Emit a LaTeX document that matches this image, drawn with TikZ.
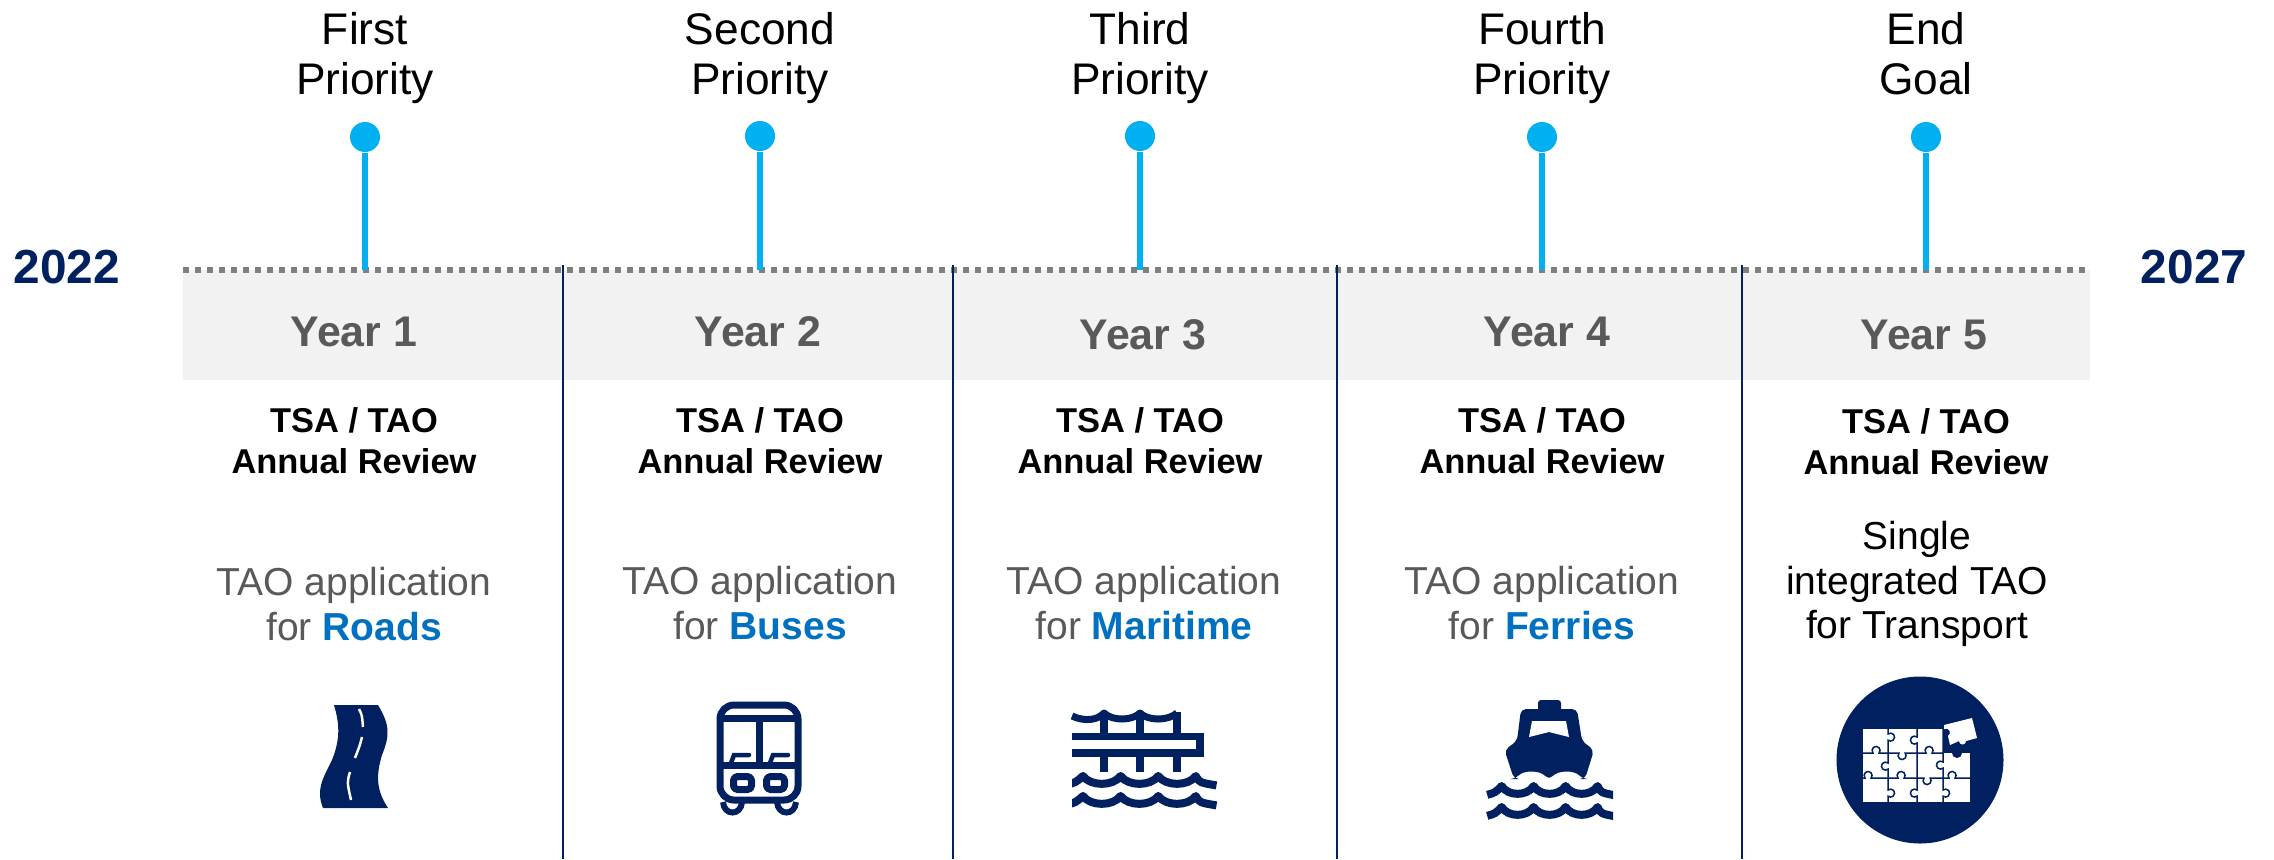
\documentclass[tikz,border=0pt]{standalone}
\usepackage{fontspec}
\setmainfont{Liberation Sans}
\definecolor{navyicon}{HTML}{002060}
\definecolor{pincyan}{HTML}{00B0F0}
\definecolor{bandgrey}{HTML}{F2F2F2}
\definecolor{dotgrey}{HTML}{7F7F7F}
\definecolor{textgrey}{HTML}{595959}
\definecolor{modeblue}{HTML}{0070C0}
\newcommand{\modename}[1]{\textbf{\textcolor{modeblue}{#1}}}
\tikzset{
  pin/.style={circle,fill=pincyan,minimum size=0.3cm,inner sep=0pt},
  stem/.style={draw=pincyan,line width=0.06cm},
  timeline/.style={draw=dotgrey,line width=0.06cm,dash pattern=on 0.06cm off 0.06cm},
  divider/.style={draw=navyicon,line width=0.02cm},
  prio/.style={align=center,font=\fontsize{12.6}{14.3}\selectfont,text=black,inner sep=0pt},
  yearend/.style={font=\fontsize{13.6}{16}\selectfont\bfseries,text=navyicon,inner sep=0pt},
  yearlab/.style={font=\fontsize{12.2}{14}\selectfont\bfseries,text=textgrey,inner sep=0pt},
  review/.style={align=center,font=\fontsize{9.8}{11.7}\selectfont\bfseries,text=black,inner sep=0pt},
  apply/.style={align=center,font=\fontsize{11.1}{12.7}\selectfont,text=textgrey,inner sep=0pt},
  single/.style={align=center,font=\fontsize{11.1}{12.7}\selectfont,text=black,inner sep=0pt},
  iconline/.style={draw=navyicon,line width=0.07cm,line join=round},
  seamline/.style={draw=navyicon,line width=0.015cm},
  waverow/.pic={
    \draw[iconline,line width=0.08cm] (-0.45,-0.8) .. controls (-0.2,-0.6) .. (0,0)
      .. controls (0.2,-0.95) and (0.8,-0.95) .. (1,0)
      .. controls (1.2,-0.95) and (1.8,-0.95) .. (2,0)
      .. controls (2.2,-0.95) and (2.8,-0.95) .. (3,0)
      .. controls (3.1,-0.6) .. (3.55,-0.85);
  }
}

\begin{document}
\begin{tikzpicture}
\useasboundingbox (0,0) rectangle (22.74,-8.59);

\fill[bandgrey] (1.83,-2.70) rectangle (20.90,-3.80);

\coordinate (lineleft) at (1.83,-2.70);
\coordinate (lineright) at (20.86,-2.70);
\draw[timeline] (lineleft) -- (lineright);

\node[pin] (pin1) at (3.65,-1.37) {};
\node[pin] (pin2) at (7.60,-1.36) {};
\node[pin] (pin3) at (11.40,-1.36) {};
\node[pin] (pin4) at (15.42,-1.37) {};
\node[pin] (pin5) at (19.26,-1.37) {};
\coordinate (tick1) at (3.65,-2.70);
\coordinate (tick2) at (7.60,-2.70);
\coordinate (tick3) at (11.40,-2.70);
\coordinate (tick4) at (15.42,-2.70);
\coordinate (tick5) at (19.26,-2.70);
\draw[stem] (pin1) -- (tick1);
\draw[stem] (pin2) -- (tick2);
\draw[stem] (pin3) -- (tick3);
\draw[stem] (pin4) -- (tick4);
\draw[stem] (pin5) -- (tick5);

\coordinate (sep1a) at (5.63,-2.65);
\coordinate (sep1b) at (5.63,-8.59);
\coordinate (sep2a) at (9.53,-2.65);
\coordinate (sep2b) at (9.53,-8.59);
\coordinate (sep3a) at (13.37,-2.65);
\coordinate (sep3b) at (13.37,-8.59);
\coordinate (sep4a) at (17.42,-2.65);
\coordinate (sep4b) at (17.42,-8.59);
\draw[divider] (sep1a) -- (sep1b);
\draw[divider] (sep2a) -- (sep2b);
\draw[divider] (sep3a) -- (sep3b);
\draw[divider] (sep4a) -- (sep4b);

\node[prio] (prio1) at (3.65,-0.58) {First\\Priority};
\node[prio] (prio2) at (7.60,-0.58) {Second\\Priority};
\node[prio] (prio3) at (11.40,-0.58) {Third\\Priority};
\node[prio] (prio4) at (15.42,-0.58) {Fourth\\Priority};
\node[prio] (prio5) at (19.26,-0.54) {End\\Goal};

\node[yearend] (start) at (0.67,-2.67) {2022};
\node[yearend] (end) at (21.94,-2.67) {2027};

\node[yearlab] (year1) at (3.54,-3.32) {Year 1};
\node[yearlab] (year2) at (7.58,-3.32) {Year 2};
\node[yearlab] (year3) at (11.43,-3.35) {Year 3};
\node[yearlab] (year4) at (15.47,-3.32) {Year 4};
\node[yearlab] (year5) at (19.24,-3.35) {Year 5};

\node[review] (review1) at (3.54,-4.41) {TSA / TAO\\Annual Review};
\node[review] (review2) at (7.60,-4.41) {TSA / TAO\\Annual Review};
\node[review] (review3) at (11.40,-4.41) {TSA / TAO\\Annual Review};
\node[review] (review4) at (15.42,-4.41) {TSA / TAO\\Annual Review};
\node[review] (review5) at (19.26,-4.42) {TSA / TAO\\Annual Review};

\node[apply] (apply1) at (3.54,-6.04) {TAO application\\for \modename{Roads}};
\node[apply] (apply2) at (7.60,-6.03) {TAO application\\for \modename{Buses}};
\node[apply] (apply3) at (11.44,-6.03) {TAO application\\for \modename{Maritime}};
\node[apply] (apply4) at (15.42,-6.03) {TAO application\\for \modename{Ferries}};
\node[single] (apply5) at (19.17,-5.84) {Single\\integrated TAO\\for Transport};

% road
\fill[navyicon] (3.34,-7.05) .. controls (3.40,-7.25) and (3.40,-7.40) .. (3.32,-7.60)
  .. controls (3.22,-7.80) and (3.16,-7.90) .. (3.23,-8.08) -- (3.88,-8.08)
  .. controls (3.76,-7.90) and (3.76,-7.75) .. (3.82,-7.55)
  .. controls (3.90,-7.35) and (3.90,-7.25) .. (3.78,-7.05) -- cycle;
\draw[white,line width=0.025cm] (3.59,-7.09) .. controls (3.62,-7.15) .. (3.63,-7.27);
\draw[white,line width=0.025cm] (3.62,-7.37) .. controls (3.60,-7.45) .. (3.55,-7.58);
\draw[white,line width=0.025cm] (3.50,-7.72) .. controls (3.47,-7.82) .. (3.51,-8.00);

% bus
\draw[iconline,rounded corners=0.14cm] (7.20,-7.05) rectangle (7.98,-8.00);
\draw[iconline] (7.20,-7.18) -- (7.98,-7.18);
\draw[iconline] (7.20,-7.65) -- (7.98,-7.65);
\draw[iconline] (7.595,-7.18) -- (7.595,-7.65);
\draw[navyicon,line width=0.045cm,line cap=round] (7.31,-7.63) -- (7.34,-7.55) -- (7.49,-7.55);
\draw[navyicon,line width=0.045cm,line cap=round] (7.70,-7.63) -- (7.73,-7.55) -- (7.88,-7.55);
\draw[iconline,rounded corners=0.04cm] (7.335,-7.765) rectangle (7.515,-7.895);
\draw[iconline,rounded corners=0.04cm] (7.665,-7.765) rectangle (7.845,-7.895);
\draw[navyicon,line width=0.06cm] (7.23,-8.02) .. controls (7.24,-8.16) and (7.41,-8.16) .. (7.42,-8.02);
\draw[navyicon,line width=0.06cm] (7.77,-8.02) .. controls (7.78,-8.16) and (7.95,-8.16) .. (7.96,-8.02);

% pier
\draw[iconline] (10.72,-7.16) .. controls (10.85,-7.22) and (10.98,-7.20) .. (11.04,-7.13)
  .. controls (11.12,-7.21) and (11.32,-7.21) .. (11.40,-7.13)
  .. controls (11.48,-7.21) and (11.68,-7.21) .. (11.77,-7.13);
\draw[navyicon,line width=0.08cm] (11.04,-7.12) -- (11.04,-7.36);
\draw[navyicon,line width=0.08cm] (11.40,-7.12) -- (11.40,-7.36);
\draw[navyicon,line width=0.08cm] (11.77,-7.12) -- (11.77,-7.36);
\draw[navyicon,line width=0.08cm] (11.04,-7.53) -- (11.04,-7.72);
\draw[navyicon,line width=0.08cm] (11.40,-7.53) -- (11.40,-7.72);
\draw[navyicon,line width=0.08cm] (11.77,-7.53) -- (11.77,-7.72);
\draw[navyicon,line width=0.075cm] (10.72,-7.365) -- (12.00,-7.365) -- (12.00,-7.53) -- (10.72,-7.53);
\begin{scope}
\clip (10.72,-7.65) rectangle (12.20,-8.20);
\pic[xscale=0.376,yscale=0.11] at (10.83,-7.76) {waverow};
\pic[xscale=0.376,yscale=0.11] at (10.83,-7.96) {waverow};
\end{scope}

% ferry
\fill[navyicon,rounded corners=0.03cm] (15.38,-7.00) rectangle (15.61,-7.15);
\fill[navyicon,rounded corners=0.05cm] (15.21,-7.09) -- (15.77,-7.09) -- (15.82,-7.41) -- (15.94,-7.50)
  -- (15.85,-7.79) -- (15.83,-7.79) .. controls (15.74,-7.70) and (15.58,-7.70) .. (15.49,-7.80)
  .. controls (15.40,-7.70) and (15.24,-7.70) .. (15.15,-7.79) -- (15.14,-7.79) -- (15.045,-7.50)
  -- (15.17,-7.41) -- cycle;
\fill[white] (15.32,-7.21) -- (15.66,-7.21) -- (15.69,-7.37) -- (15.49,-7.32) -- (15.29,-7.37) -- cycle;
\begin{scope}
\clip (14.86,-7.70) rectangle (16.13,-8.30);
\pic[xscale=0.32,yscale=0.11] at (15.016,-7.86) {waverow};
\pic[xscale=0.32,yscale=0.11] at (15.016,-8.07) {waverow};
\end{scope}

% puzzle
\fill[navyicon] (19.20,-7.60) circle (0.835);
\fill[white] (18.63,-7.29) rectangle (19.70,-8.02);
\fill[navyicon] (19.43,-7.25) rectangle (19.72,-7.53);
\fill[white] (19.44,-7.25) -- (19.72,-7.18) -- (19.77,-7.38) -- (19.66,-7.41) arc[start angle=0,end angle=-180,radius=0.035] -- (19.50,-7.45) -- (19.48,-7.36) arc[start angle=-60,end angle=120,radius=0.04] -- cycle;
\fill[navyicon] (19.57,-7.53) circle (0.05);
\draw[seamline] (18.63,-7.53) -- (18.73,-7.53) arc[start angle=220,end angle=-40,radius=0.04] -- (18.99,-7.53) arc[start angle=140,end angle=400,radius=0.04] -- (19.26,-7.53) arc[start angle=220,end angle=-40,radius=0.04] -- (19.43,-7.53);
\draw[seamline] (18.63,-7.78) -- (18.65,-7.78) arc[start angle=220,end angle=-40,radius=0.04] -- (18.98,-7.78) arc[start angle=220,end angle=-40,radius=0.04] -- (19.24,-7.78) arc[start angle=140,end angle=400,radius=0.04] -- (19.49,-7.78) arc[start angle=220,end angle=-40,radius=0.04] -- (19.70,-7.78);
\draw[seamline] (18.88,-7.29) -- (18.88,-7.34) arc[start angle=130,end angle=-130,radius=0.04] -- (18.88,-7.63) arc[start angle=50,end angle=310,radius=0.04] -- (18.88,-7.90) arc[start angle=130,end angle=-130,radius=0.04] -- (18.88,-8.02);
\draw[seamline] (19.17,-7.29) -- (19.17,-7.37) arc[start angle=50,end angle=310,radius=0.04] -- (19.17,-7.90) arc[start angle=50,end angle=310,radius=0.04] -- (19.17,-8.02);
\draw[seamline] (19.43,-7.29) -- (19.43,-7.62) arc[start angle=50,end angle=310,radius=0.04] -- (19.43,-7.90) arc[start angle=130,end angle=-130,radius=0.04] -- (19.43,-8.02);
\end{tikzpicture}
\end{document}
